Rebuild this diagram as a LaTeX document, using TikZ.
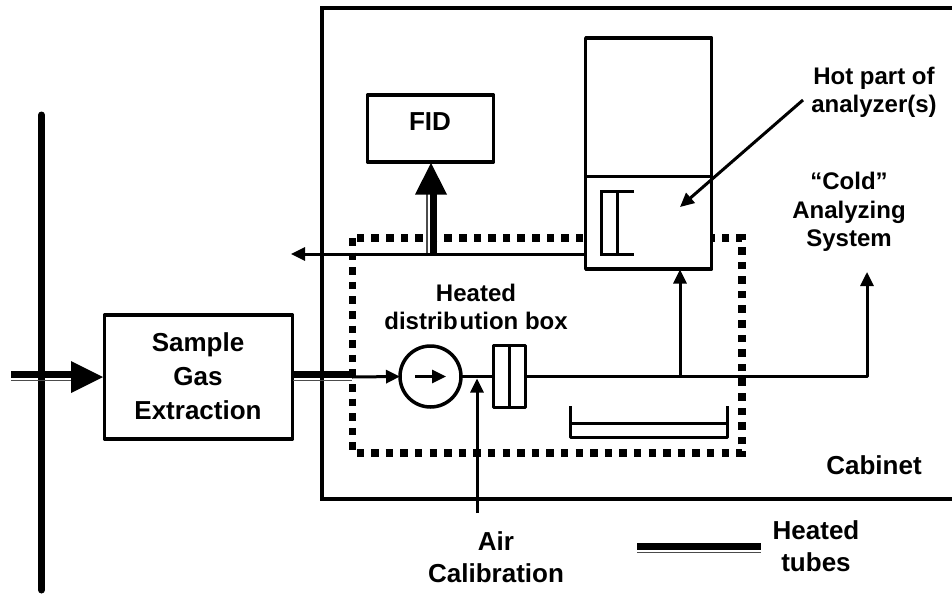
\documentclass[tikz,border=0pt]{standalone}
\usepackage{fontspec}
\setmainfont{Liberation Sans}
\usetikzlibrary{arrows.meta}
\tikzset{
  wire/.style={line width=3pt},
  box/.style={draw,line width=3.5pt,fill=white,inner sep=0pt,outer sep=0pt,line join=round},
  lab/.style={font=\fontsize{26}{34}\selectfont\bfseries,align=center,inner sep=0pt},
  labw/.style={font=\fontsize{26}{32}\selectfont\bfseries,align=center,inner sep=0pt},
  labs/.style={font=\fontsize{24}{28.5}\selectfont\bfseries,align=center,inner sep=0pt},
  arr/.style={wire,-{Triangle[length=14pt,width=13pt]}},
  heavy/.style={line width=6.5pt},
  thinline/.style={line width=1.5pt,black!70},
  bigtip/.style={fill=black},
  dots/.style={line width=7.5pt,dash pattern=on 7.5pt off 7.1pt}
}
\begin{document}
\begin{tikzpicture}[x=1pt,y=-1pt]
\useasboundingbox (0,0) rectangle (952,594);
% cabinet
\draw[line width=3.5pt] (952,8) -- (322,8) -- (322,499) -- (952,499);
% heated box
\draw[dots] (352.5,238) rectangle (742,453);
% process bar
\draw[line width=7pt,line cap=round] (41.5,115) -- (41.5,590);
% nodes
\node[box,minimum width=188pt,minimum height=124pt,anchor=north west] (sge) at (104.5,315) {};
\node[lab] (sget) at (198,376.5) {Sample\\Gas\\Extraction};
\node[box,minimum width=126pt,minimum height=67pt,anchor=north west] (fid) at (367.5,95) {};
\node[lab] (fidt) at (430,122) {FID};
\node[box,minimum width=126pt,minimum height=231pt,anchor=north west] (hot) at (585.7,38) {};
\draw[wire] (585.7,176) -- (711.7,176);
\draw[wire] (634,191.7) -- (601.7,191.7) -- (601.7,254) -- (634,254);
\draw[wire] (617.7,191.7) -- (617.7,254);
% pump, filter
\node[draw,circle,line width=3.5pt,minimum size=61pt,inner sep=0pt,outer sep=0pt,fill=white] (pump) at (430.5,376.5) {};
\node[box,line width=3pt,minimum width=32pt,minimum height=62pt] (filt) at (509,376.5) {};
\draw[wire] (509,345.5) -- (509,407.5);
\draw[arr] (415,376.5) -- (446,376.5);
% tray
\draw[wire,line join=round] (570,406) -- (570,437) -- (727,437) -- (727,406);
\draw[wire] (570,423) -- (727,423);
% heated tubes
\draw[heavy] (11,374.5) -- (72,374.5);
\draw[thinline] (11,380.5) -- (72,380.5);
\fill[bigtip] (71,361) -- (103,377) -- (71,393) -- cycle;
\draw[heavy] (293,374.5) -- (352,374.5);
\draw[thinline] (293,380.5) -- (352,380.5);
\draw[heavy] (433.5,254) -- (433.5,190);
\draw[thinline] (427,254) -- (427,190);
\fill[bigtip] (415,194.5) -- (431,163) -- (447,194.5) -- cycle;
\draw[heavy] (637,546.5) -- (761,546.5);
\draw[thinline] (637,552.5) -- (761,552.5);
% wires
\coordinate (in) at (352,377);
\draw[arr] (in) -- (pump.west);
\draw[wire] (pump.east) -- (filt.west);
\coordinate (corner) at (867,376.5);
\coordinate (coldtip) at (867,272);
\coordinate (branch) at (680,376.5);
\draw[wire,line join=round,-{Triangle[length=14pt,width=13pt]}] (filt.east) -- (corner) -- (coldtip);
\draw[arr] (branch) -- (680,269.5);
\coordinate (airs) at (477,513);
\draw[arr] (airs) -- (477,378.5);
\coordinate (lefttip) at (291,254);
\draw[arr] (585.7,254) -- (lefttip);
\coordinate (hots) at (803,100);
\coordinate (hote) at (680,207);
\draw[arr] (hots) -- (hote);
% labels
\node[labs] at (476,307) {Heated\\distrib\kern2pt ution box};
\node[labw] at (496,557.5) {Air\\Calibration};
\node[labw] at (816,546.5) {Heated\\tubes};
\node[lab] at (874,465) {Cabinet};
\node[labs] at (874,92.5) {Hot part of\\analyzer(s)};
\node[labs] at (849,212) {“Cold”\\Analyzing\\System};
\end{tikzpicture}
\end{document}
